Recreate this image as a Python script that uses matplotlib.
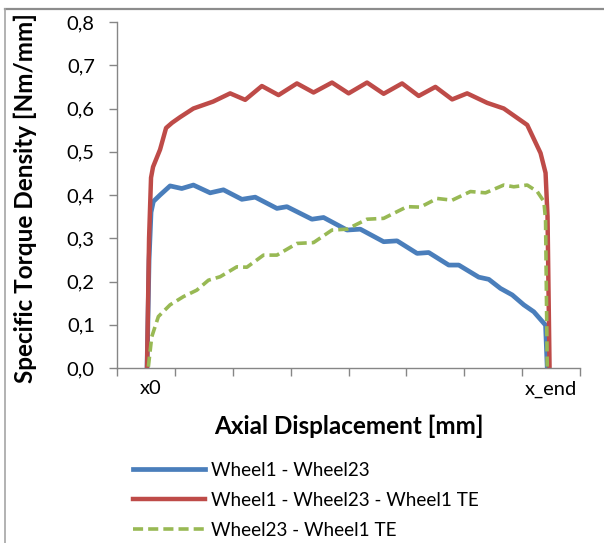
import matplotlib
matplotlib.use("Agg")
import matplotlib.pyplot as plt
from matplotlib.lines import Line2D

# positions along the axial axis (tick marks at integers, x0 near 0.5, x_end at 7.5)
x_w1_w23 = [0.519, 0.554, 0.588, 0.628, 0.744, 0.917, 1.119, 1.320, 1.609, 1.839,
            2.157, 2.388, 2.763, 2.936, 3.368, 3.569, 3.974, 4.204, 4.607, 4.839,
            5.185, 5.386, 5.732, 5.905, 6.251, 6.424, 6.626, 6.829, 7.029, 7.202,
            7.405, 7.434]
y_w1_w23 = [0.0, 0.25, 0.36, 0.385, 0.400, 0.421, 0.415, 0.423, 0.405, 0.412,
            0.390, 0.395, 0.369, 0.373, 0.344, 0.348, 0.319, 0.321, 0.292, 0.294,
            0.265, 0.267, 0.238, 0.238, 0.210, 0.205, 0.184, 0.169, 0.146, 0.130,
            0.099, 0.0]

x_w1_w23_te = [0.519, 0.554, 0.588, 0.623, 0.744, 0.848, 0.952, 1.090, 1.320, 1.661,
               1.955, 2.215, 2.503, 2.791, 3.109, 3.396, 3.715, 4.002, 4.320, 4.607,
               4.926, 5.213, 5.502, 5.791, 6.050, 6.396, 6.683, 7.088, 7.318, 7.405,
               7.439, 7.474]
y_w1_w23_te = [0.0, 0.30, 0.44, 0.465, 0.505, 0.555, 0.567, 0.580, 0.600, 0.616,
               0.635, 0.620, 0.652, 0.631, 0.658, 0.637, 0.660, 0.635, 0.660, 0.634,
               0.658, 0.629, 0.650, 0.621, 0.635, 0.613, 0.600, 0.562, 0.497, 0.451,
               0.350, 0.0]

x_w23_te = [0.542, 0.600, 0.715, 0.917, 1.147, 1.379, 1.580, 1.782, 2.071, 2.244,
            2.531, 2.763, 3.109, 3.396, 3.715, 3.974, 4.320, 4.607, 5.012, 5.242,
            5.531, 5.791, 6.107, 6.367, 6.683, 6.856, 7.088, 7.261, 7.376, 7.405,
            7.434]
y_w23_te = [0.003, 0.072, 0.119, 0.146, 0.165, 0.180, 0.203, 0.211, 0.234, 0.233,
            0.261, 0.261, 0.288, 0.290, 0.319, 0.321, 0.344, 0.346, 0.373, 0.372,
            0.392, 0.388, 0.408, 0.405, 0.423, 0.419, 0.423, 0.408, 0.385, 0.342,
            0.0]

x_labels = ["x0", "x_end"]
x_label_pos = [0.58, 7.5]
y_ticks = [0.0, 0.1, 0.2, 0.3, 0.4, 0.5, 0.6, 0.7, 0.8]

plt.rcParams["font.family"] = ["Lato", "DejaVu Sans"]

fig = plt.figure(figsize=(6.04, 5.43), dpi=100)
ax = fig.add_axes([117 / 604, 1 - 368 / 543, (580 - 117) / 604, (368 - 22) / 543])

ax.plot(x_w1_w23, y_w1_w23, color="#4A7EBB", linewidth=3.4,
        solid_joinstyle="round", label="Wheel1 - Wheel23")
ax.plot(x_w1_w23_te, y_w1_w23_te, color="#BE4B48", linewidth=3.2,
        solid_joinstyle="round", label="Wheel1 - Wheel23 - Wheel1 TE")
ax.plot(x_w23_te, y_w23_te, color="#98B954", linewidth=2.6,
        dashes=(2.8, 1.4), label="Wheel23 - Wheel1 TE")

ax.set_xlim(0, 8)
ax.set_ylim(0, 0.8)
ax.set_yticks(y_ticks)
ax.set_yticklabels([("%.1f" % v).replace(".", ",") for v in y_ticks])
ax.set_xticks(x_label_pos)
ax.set_xticklabels(x_labels)
ax.set_xticks(range(0, 9), minor=True)
ax.tick_params(axis="x", which="major", length=0, pad=9, labelsize=14.5)
ax.tick_params(axis="x", which="minor", length=6, width=1, color="#868686")
ax.tick_params(axis="y", length=6, width=1, color="#868686", pad=10, labelsize=14.5)

for s in ["top", "right"]:
    ax.spines[s].set_visible(False)
for s in ["left", "bottom"]:
    ax.spines[s].set_color("#868686")
    ax.spines[s].set_linewidth(1)

ax.set_xlabel("Axial Displacement [mm]", fontsize=17.5, fontweight="bold")
ax.xaxis.set_label_coords(0.5, -0.134)
ax.set_ylabel("Specific Torque Density [Nm/mm]", fontsize=17.5, fontweight="bold")
ax.yaxis.set_label_coords(-0.173, 0.49)

fig.legend(loc="upper left", bbox_to_anchor=(133 / 604, 1 - 462 / 543),
           frameon=False, fontsize=13.6, handlelength=3.8, handletextpad=0.33,
           borderpad=0, borderaxespad=0, labelspacing=0.68)

# outer frame lines (top and left) like the exported picture
fig.add_artist(Line2D([5 / 604, 1], [1 - 8.5 / 543, 1 - 8.5 / 543],
                      color="#8C8C8C", linewidth=1.6))
fig.add_artist(Line2D([5 / 604, 5 / 604], [0, 1 - 8.5 / 543],
                      color="#A6A6A6", linewidth=1.2))

fig.savefig("out.png", dpi=100)
